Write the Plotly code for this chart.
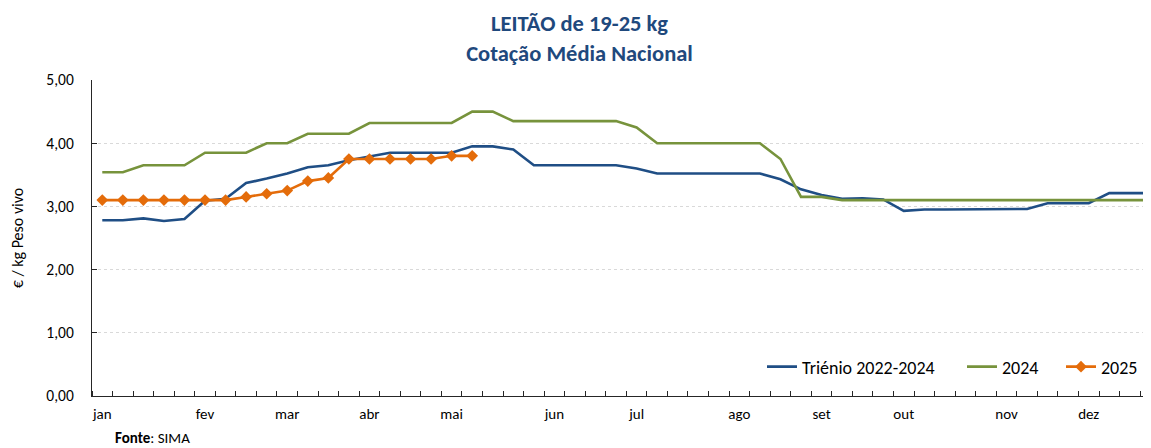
import plotly.graph_objects as go

# weekly categories (week index 0..51)
weeks = list(range(52))
month_labels = ["jan", "fev", "mar", "abr", "mai", "jun", "jul", "ago", "set", "out", "nov", "dez"]
month_weeks = [0, 5, 9, 13, 17, 22, 26, 31, 35, 39, 44, 48]

trienio = [2.78, 2.78, 2.81, 2.77, 2.80, 3.09, 3.12, 3.37, 3.44, 3.52,
           3.62, 3.65, 3.73, 3.79, 3.85, 3.85, 3.85, 3.85, 3.95, 3.95,
           3.90, 3.65, 3.65, 3.65, 3.65, 3.65, 3.60, 3.52, 3.52, 3.52,
           3.52, 3.52, 3.52, 3.43, 3.27, 3.18, 3.12, 3.13, 3.11, 2.93,
           2.95, 2.95, 2.95, 2.95, 2.96, 2.96, 3.05, 3.05, 3.05, 3.21,
           3.21, 3.21]
y2024 = [3.54, 3.54, 3.65, 3.65, 3.65, 3.85, 3.85, 3.85, 4.00, 4.00,
         4.15, 4.15, 4.15, 4.32, 4.32, 4.32, 4.32, 4.32, 4.50, 4.50,
         4.35, 4.35, 4.35, 4.35, 4.35, 4.35, 4.25, 4.00, 4.00, 4.00,
         4.00, 4.00, 4.00, 3.75, 3.15, 3.15, 3.10, 3.10, 3.10, 3.10,
         3.10, 3.10, 3.10, 3.10, 3.10, 3.10, 3.10, 3.10, 3.10, 3.10,
         3.10, 3.10]
y2025 = [3.10, 3.10, 3.10, 3.10, 3.10, 3.10, 3.10, 3.15, 3.20, 3.25,
         3.40, 3.45, 3.75, 3.75, 3.75, 3.75, 3.75, 3.80, 3.80]

FONT = "Carlito, Calibri, Lato, sans-serif"
BLUE = "#1F4E85"
GREEN = "#77933C"
ORANGE = "#E46C0A"
TITLE_C = "#1F497D"

# the page body has an 8px margin: figure is sized/offset to compensate
OFF = 8
W, H = 1151 - OFF, 448 - OFF
PL, PT, PB = 92 - OFF, 80 - OFF, 52

fig = go.Figure()
fig.add_trace(go.Scatter(x=weeks, y=trienio, mode="lines", name="Triénio 2022-2024",
                         line=dict(color=BLUE, width=2.6), legend="legend"))
fig.add_trace(go.Scatter(x=weeks, y=y2024, mode="lines", name="2024",
                         line=dict(color=GREEN, width=2.6), legend="legend2"))
fig.add_trace(go.Scatter(x=weeks[:len(y2025)], y=y2025, mode="lines+markers", name="2025",
                         line=dict(color=ORANGE, width=2.6),
                         marker=dict(symbol="diamond", size=9, color=ORANGE), legend="legend3"))

leg_common = dict(orientation="h", yanchor="middle", y=0.092, xanchor="left",
                  bgcolor="rgba(0,0,0,0)", font=dict(family=FONT, size=18, color="#000000"))

fig.update_layout(
    width=W, height=H, autosize=False,
    margin=dict(l=PL, r=0, t=PT, b=PB, autoexpand=False),
    paper_bgcolor="white", plot_bgcolor="white",
    separators=", ",
    showlegend=True,
    font=dict(family=FONT, size=15, color="#000000"),
    title=dict(text="<b>LEITÃO de 19-25 kg<br>Cotação Média Nacional</b>",
               x=0.5, xref="container", xanchor="center",
               y=0.947, yref="container", yanchor="top",
               font=dict(family=FONT, size=22.5, color=TITLE_C)),
    legend=dict(x=(762 - 92) / 1059, **leg_common),
    legend2=dict(x=(962 - 92) / 1059, **leg_common),
    legend3=dict(x=(1061 - 92) / 1059, **leg_common),
    xaxis=dict(
        range=[-0.5, 51.03], showgrid=False, zeroline=False,
        showline=True, linecolor="#262626", linewidth=1.3,
        tickmode="array", tickvals=month_weeks, ticktext=month_labels,
        ticks="", ticklabelstandoff=4, automargin=False,
        tickfont=dict(family=FONT, size=15, color="#000000"),
        minor=dict(tickmode="linear", tick0=0.5, dtick=1, ticks="inside",
                   ticklen=5, tickwidth=1.2, tickcolor="#262626", showgrid=False),
    ),
    yaxis=dict(
        range=[0, 5], tickmode="linear", tick0=0, dtick=1, tickformat=".2f",
        showgrid=True, gridcolor="#D9D9D9", griddash="dot", gridwidth=1,
        zeroline=False, showline=True, linecolor="#262626", linewidth=1.3,
        ticks="inside", ticklen=5, tickwidth=1.2, tickcolor="#262626",
        ticklabelstandoff=14, automargin=False,
        tickfont=dict(family=FONT, size=15.5, color="#000000"),
        title=dict(text="€ / kg Peso vivo", standoff=20,
                   font=dict(family=FONT, size=16, color="#000000")),
    ),
    annotations=[dict(text="<b>Fonte</b>: SIMA", xref="paper", yref="paper",
                      x=(113 - 92) / 1059, y=-(438 - 396) / 316,
                      xanchor="left", yanchor="middle", showarrow=False,
                      font=dict(family=FONT, size=15, color="#000000"))],
)

fig.write_html("out.html")
